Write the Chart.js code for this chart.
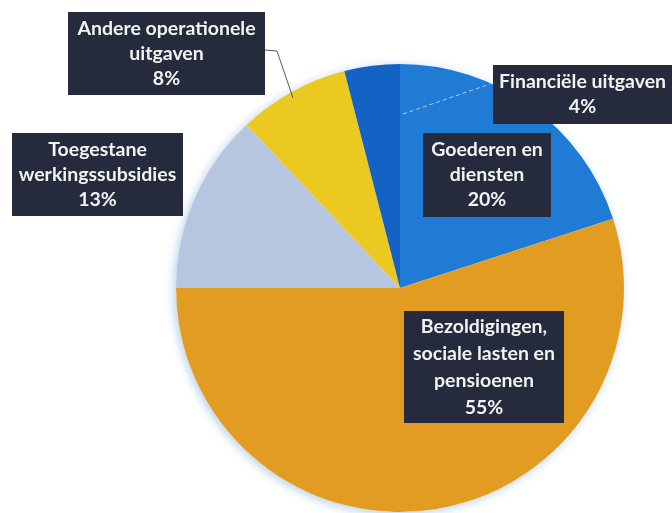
<!DOCTYPE html>
<html>
<head>
<meta charset="utf-8">
<script src="https://cdn.jsdelivr.net/npm/chart.js@4"></script>
<style>
  html, body { margin: 0; padding: 0; background: #ffffff; }
  #wrap { width: 672px; height: 513px; position: relative; }
</style>
</head>
<body>
<div id="wrap"><canvas id="pieChart" width="672" height="513"></canvas></div>
<script>
// categorieën (met regeleinden zoals in de labels) en aandelen in %
const categories = [
    ['Goederen en', 'diensten'],
    ['Bezoldigingen,', 'sociale lasten en', 'pensioenen'],
    ['Toegestane', 'werkingssubsidies'],
    ['Andere operationele', 'uitgaven'],
    ['Financiële uitgaven']
];
const shares = [20, 55, 13, 8, 4];
const sliceColors = ['#1f7bd4', '#e39c22', '#b6c5e0', '#ecc920', '#1463c4'];

// plaats van de labelkaders (x, y, breedte, hoogte)
const boxes = [
    { x: 423, y: 133, w: 128, h: 84 },
    { x: 404, y: 311, w: 160, h: 112 },
    { x: 12, y: 133, w: 171, h: 83 },
    { x: 68, y: 12, w: 197, h: 83 },
    { x: 493, y: 65, w: 179, h: 59 }
];

// zachte blauwe schaduw onder de taart
const pieShadow = {
    id: 'pieShadow',
    beforeDatasetsDraw(chart) {
        const arc = chart.getDatasetMeta(0).data[0];
        if (!arc) return;
        const ctx = chart.ctx;
        ctx.save();
        ctx.shadowColor = 'rgba(120,170,220,0.55)';
        ctx.shadowBlur = 10;
        ctx.shadowOffsetX = -2;
        ctx.shadowOffsetY = 2;
        ctx.fillStyle = '#ffffff';
        ctx.beginPath();
        ctx.arc(arc.x, arc.y, arc.outerRadius, 0, Math.PI * 2);
        ctx.fill();
        ctx.restore();
    }
};

// labels in donkere kaders + verbindingslijnen
const labelBoxes = {
    id: 'labelBoxes',
    afterDatasetsDraw(chart) {
        const ctx = chart.ctx;
        ctx.save();

        // lijn naar "Andere operationele uitgaven"
        ctx.strokeStyle = '#55585e';
        ctx.lineWidth = 1;
        ctx.beginPath();
        ctx.moveTo(265, 50);
        ctx.lineTo(277, 51);
        ctx.lineTo(293, 98);
        ctx.stroke();

        // gestippelde lijn naar "Financiële uitgaven"
        ctx.strokeStyle = 'rgba(210,225,245,0.8)';
        ctx.setLineDash([4, 3]);
        ctx.beginPath();
        ctx.moveTo(403, 114);
        ctx.lineTo(490, 84);
        ctx.stroke();
        ctx.setLineDash([]);

        ctx.font = 'bold 19.5px Lato, "Open Sans", sans-serif';
        ctx.textAlign = 'center';
        ctx.textBaseline = 'middle';
        categories.forEach((lines, i) => {
            const b = boxes[i];
            ctx.fillStyle = '#252b3d';
            ctx.fillRect(b.x, b.y, b.w, b.h);
            const all = lines.concat([shares[i] + '%']);
            const lh = i === 1 ? 27 : 25;
            const top = b.y + b.h / 2 - (all.length - 1) * lh / 2;
            ctx.fillStyle = '#f2f2f2';
            all.forEach((t, k) => {
                ctx.fillText(t, b.x + b.w / 2, top + k * lh);
            });
        });
        ctx.restore();
    }
};

const ctx = document.getElementById('pieChart').getContext('2d');
new Chart(ctx, {
    type: 'pie',
    data: {
        labels: categories,
        datasets: [{
            data: shares,
            backgroundColor: sliceColors,
            borderWidth: 0
        }]
    },
    options: {
        responsive: false,
        animation: false,
        layout: {
            padding: { left: 176, right: 48, top: 64, bottom: 1 }
        },
        plugins: {
            legend: { display: false },
            tooltip: { enabled: false }
        }
    },
    plugins: [pieShadow, labelBoxes]
});
</script>
</body>
</html>
